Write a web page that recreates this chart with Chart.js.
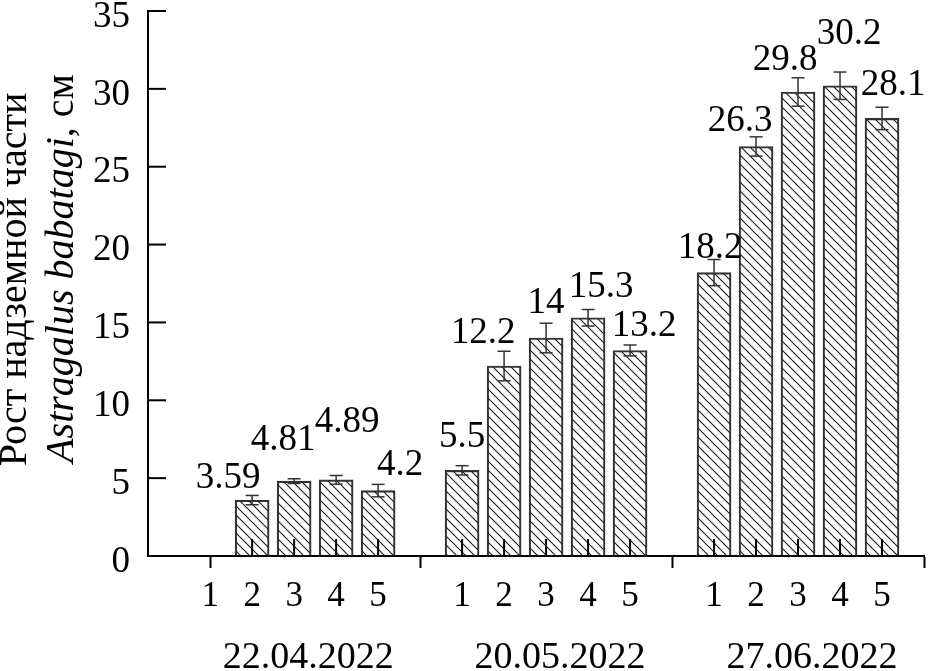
<!DOCTYPE html>
<html>
<head>
<meta charset="utf-8">
<script src="https://cdn.jsdelivr.net/npm/chart.js@4"></script>
<style>
	html, body { margin: 0; padding: 0; background: #fff; }
	#chart { display: block; }
</style>
</head>
<body>
<canvas id="chart" width="929" height="671"></canvas>
<script>
const SERIF = '"Liberation Serif", "Times New Roman", serif';

const groupNames = ['22.04.2022', '20.05.2022', '27.06.2022'];
const variantNames = ['1', '2', '3', '4', '5'];

// plant height, cm
const heightApr = [null, 3.59, 4.81, 4.89, 4.2];
const heightMay = [5.5, 12.2, 14, 15.3, 13.2];
const heightJun = [18.2, 26.3, 29.8, 30.2, 28.1];

// error (+/-)
const errApr = [null, 0.3, 0.15, 0.28, 0.4];
const errMay = [0.3, 0.95, 0.95, 0.53, 0.35];
const errJun = [0.84, 0.62, 0.91, 0.88, 0.72];

// value label nudges [dx, dy] in px, relative to top of error bar
const nudgeApr = [null, [-24, -7], [-11, -29], [11, -43], [22, -9]];
const nudgeMay = [[0, -19], [-21, -8], [0, -10], [13, -13], [14, -9]];
const nudgeJun = [[-4, -2], [-16, -6], [-13, -8], [9, -28], [11, -12]];

const groups = [heightApr, heightMay, heightJun];
const errors = [errApr, errMay, errJun];
const nudges = [nudgeApr, nudgeMay, nudgeJun];

const slotsPerGroup = variantNames.length + 1;
const points = groups.flatMap((values, g) => values.map((y, i) => ({
	x: g * slotsPerGroup + i,
	y,
	label: variantNames[i],
	err: errors[g][i],
	nudge: nudges[g][i],
})));
const boundaries = groupNames.map((_, g) => g * slotsPerGroup + variantNames.length);
const tickSlots = [...points.map(p => p.x), ...boundaries].sort((a, b) => a - b);
const downTicks = new Set([...boundaries, ...points.filter(p => p.y == null).map(p => p.x)]);
const slotLabel = Object.fromEntries(points.map(p => [p.x, p.label]));

const canvas = document.getElementById('chart');

const makeHatch = (size = 9) => {
	const tile = document.createElement('canvas');
	tile.width = tile.height = size;
	const g = tile.getContext('2d');
	g.strokeStyle = '#1a1a1a';
	g.lineWidth = 1.1;
	g.beginPath();
	g.moveTo(-1, -1); g.lineTo(size + 1, size + 1);
	g.moveTo(-1, size - 1); g.lineTo(1, size + 1);
	g.moveTo(size - 1, -1); g.lineTo(size + 1, 1);
	g.stroke();
	return canvas.getContext('2d').createPattern(tile, 'repeat');
};

const line = (ctx, x1, y1, x2, y2) => {
	ctx.beginPath();
	ctx.moveTo(x1, y1);
	ctx.lineTo(x2, y2);
	ctx.stroke();
};

const decor = {
	id: 'decor',
	afterDatasetsDraw(chart) {
		const { ctx, chartArea, scales: { x, y } } = chart;
		ctx.save();

		// inward ticks on the y axis
		ctx.strokeStyle = '#000';
		ctx.lineWidth = 2;
		y.ticks.forEach(t => {
			const py = y.getPixelForValue(t.value);
			line(ctx, chartArea.left, py, chartArea.left + 18, py);
		});
		// small ticks rising from the base of each bar
		points.filter(p => p.y != null).forEach(p => {
			const px = x.getPixelForValue(p.x);
			line(ctx, px, chartArea.bottom, px, chartArea.bottom - 17);
		});

		// error bars
		ctx.strokeStyle = '#333';
		ctx.lineWidth = 1.5;
		points.filter(p => p.y != null).forEach(p => {
			const px = x.getPixelForValue(p.x);
			const top = y.getPixelForValue(p.y + p.err);
			const bottom = y.getPixelForValue(p.y - p.err);
			line(ctx, px, top, px, bottom);
			line(ctx, px - 6.5, top, px + 6.5, top);
			line(ctx, px - 6.5, bottom, px + 6.5, bottom);
		});

		// value labels
		ctx.fillStyle = '#000';
		ctx.font = `37px ${SERIF}`;
		ctx.textAlign = 'center';
		ctx.textBaseline = 'alphabetic';
		points.filter(p => p.y != null).forEach(p => {
			const [dx, dy] = p.nudge;
			ctx.fillText(String(p.y), x.getPixelForValue(p.x) + dx, y.getPixelForValue(p.y + p.err) + dy);
		});

		// dates under the groups
		ctx.font = `38px ${SERIF}`;
		groupNames.forEach((name, g) => {
			const mid = g * slotsPerGroup + (variantNames.length - 1) / 2;
			ctx.fillText(name, x.getPixelForValue(mid) + 14, chartArea.bottom + 112);
		});

		// y axis title, two lines, second one partly italic
		const cy = (chartArea.top + chartArea.bottom) / 2;
		ctx.save();
		ctx.translate(26, cy - 4);
		ctx.rotate(-Math.PI / 2);
		ctx.font = `40px ${SERIF}`;
		ctx.fillText('Рост надземной части', 0, 0);
		ctx.restore();

		ctx.save();
		ctx.translate(73, cy - 15);
		ctx.rotate(-Math.PI / 2);
		const italicPart = 'Astragalus babatagi';
		const plainPart = ', см';
		ctx.font = `italic 40px ${SERIF}`;
		const w1 = ctx.measureText(italicPart).width;
		ctx.font = `40px ${SERIF}`;
		const w2 = ctx.measureText(plainPart).width;
		ctx.textAlign = 'left';
		ctx.font = `italic 40px ${SERIF}`;
		ctx.fillText(italicPart, -(w1 + w2) / 2, 0);
		ctx.font = `40px ${SERIF}`;
		ctx.fillText(plainPart, -(w1 + w2) / 2 + w1, 0);
		ctx.restore();

		ctx.restore();
	}
};

new Chart(canvas, {
	type: 'bar',
	data: {
		datasets: [{
			data: points,
			backgroundColor: makeHatch(),
			borderColor: '#333',
			borderWidth: 1.5,
			barThickness: 34,
		}],
	},
	options: {
		responsive: false,
		animation: false,
		devicePixelRatio: 1,
		layout: { padding: { left: 0, top: 11, right: 5, bottom: 0 } },
		plugins: {
			legend: { display: false },
			tooltip: { enabled: false },
		},
		scales: {
			x: {
				type: 'linear',
				min: -1.48,
				max: 17,
				offset: false,
				afterBuildTicks: scale => {
					scale.ticks = tickSlots.map(value => ({ value }));
				},
				afterFit: scale => {
					scale.height = 115;
					scale.paddingLeft = 0;
					scale.paddingRight = 0;
				},
				ticks: {
					autoSkip: false,
					maxRotation: 0,
					color: '#000',
					padding: 8,
					font: { family: SERIF, size: 35 },
					callback: value => slotLabel[value] ?? '',
				},
				grid: {
					offset: false,
					drawOnChartArea: false,
					tickLength: 12,
					tickWidth: 2,
					tickColor: ctx => downTicks.has(ctx.tick?.value) ? '#000' : 'rgba(0,0,0,0)',
				},
				border: { color: '#000', width: 2 },
			},
			y: {
				min: 0,
				max: 35,
				afterFit: scale => {
					scale.width = 148;
					// let the top label hang above the plot area
					scale.paddingTop = 0;
					scale.paddingBottom = 0;
				},
				ticks: {
					stepSize: 5,
					color: '#000',
					padding: 18,
					labelOffset: 6,
					font: { family: SERIF, size: 37 },
				},
				grid: { drawOnChartArea: false, drawTicks: false },
				border: { color: '#000', width: 2 },
			},
		},
	},
	plugins: [decor],
});
</script>
</body>
</html>
